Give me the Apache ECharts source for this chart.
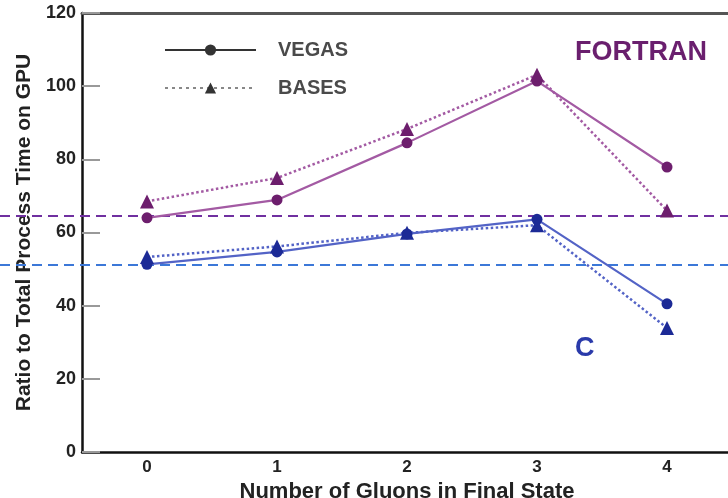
<!DOCTYPE html>
<html>
<head>
<meta charset="utf-8">
<script src="https://cdn.jsdelivr.net/npm/echarts@6/dist/echarts.min.js"></script>
<style>html,body{margin:0;padding:0;background:#fff;}#c{width:728px;height:498px;}</style>
</head>
<body>
<div id="c"></div>
<script>
const categories = ['0', '1', '2', '3', '4'];
const yTicks = [0, 20, 40, 60, 80, 100, 120];
const fortranVegas = [64.0, 68.9, 84.5, 101.4, 77.9];
const fortranBases = [68.5, 74.9, 88.3, 103.1, 66.0];
const cVegas = [51.3, 54.7, 59.6, 63.6, 40.5];
const cBases = [53.3, 56.2, 59.9, 62.0, 33.9];
const fortranRef = 64.5;
const cRef = 51.1;

const purpleLine = '#a35aa3', purpleMark = '#6d1e6d';
const blueLine = '#5363c6', blueMark = '#1c2a96';
const font = 'Liberation Sans, Arial, sans-serif';

const chart = echarts.init(document.getElementById('c'));
chart.setOption({
  animation: false,
  grid: [
    {left: 82, width: 650, top: 13, bottom: 46, outerBoundsMode: 'none', containLabel: false},
    {left: 0, right: 0, top: 13, bottom: 46, outerBoundsMode: 'none', containLabel: false}
  ],
  legend: {
    orient: 'vertical', left: 159, top: 35,
    itemWidth: 91, itemHeight: 14, itemGap: 18,
    data: ['VEGAS', 'BASES'],
    textStyle: {fontFamily: font, fontWeight: 'bold', fontSize: 20, color: '#4a4a4a', padding: [0, 0, 0, 17]}
  },
  xAxis: [
    {type: 'category', data: categories, gridIndex: 0, boundaryGap: true,
     axisLine: {lineStyle: {color: '#111', width: 2.5}},
     axisTick: {inside: true, alignWithLabel: true, length: 12, lineStyle: {color: '#444', width: 2}},
     axisLabel: {fontFamily: font, fontWeight: 'bold', fontSize: 17, color: '#222', margin: 7},
     name: 'Number of Gluons in Final State', nameLocation: 'middle', nameGap: 23,
     nameTextStyle: {fontFamily: font, fontWeight: 'bold', fontSize: 22, color: '#222'}},
    {type: 'category', data: categories, gridIndex: 0, position: 'top',
     axisLine: {lineStyle: {color: '#555', width: 3}}, axisTick: {show: false}, axisLabel: {show: false}},
    {type: 'value', gridIndex: 1, min: 0, max: 1, show: false}
  ],
  yAxis: [
    {type: 'value', gridIndex: 0, min: yTicks[0], max: yTicks[yTicks.length - 1], interval: 20,
     axisLine: {show: true, lineStyle: {color: '#111', width: 2.5}},
     axisTick: {show: true, inside: true, length: 18, lineStyle: {color: '#999', width: 2}},
     splitLine: {show: false},
     axisLabel: {fontFamily: font, fontWeight: 'bold', fontSize: 18, color: '#222', margin: 6},
     name: 'Ratio to Total Process Time on GPU', nameLocation: 'middle', nameGap: 47,
     nameTextStyle: {fontFamily: font, fontWeight: 'bold', fontSize: 21, color: '#222'}},
    {type: 'value', gridIndex: 1, min: 0, max: 120, show: false}
  ],
  graphic: [
    {type: 'text', left: 575, top: 39, style: {text: 'FORTRAN', fontFamily: font, fontWeight: 'bold', fontSize: 27, fill: '#6a1f6e'}},
    {type: 'text', left: 575, top: 335, style: {text: 'C', fontFamily: font, fontWeight: 'bold', fontSize: 27, fill: '#2a3aaa'}}
  ],
  series: [
    {name: 'fortranRef', type: 'line', xAxisIndex: 2, yAxisIndex: 1, data: [[0, fortranRef], [1, fortranRef]],
     symbol: 'none', silent: true, lineStyle: {color: '#7030a0', width: 2, type: [10, 6]}, z: 1},
    {name: 'cRef', type: 'line', xAxisIndex: 2, yAxisIndex: 1, data: [[0, cRef], [1, cRef]],
     symbol: 'none', silent: true, lineStyle: {color: '#3c78d8', width: 2, type: [10, 6]}, z: 1},
    {name: 'FORTRAN VEGAS', type: 'line', data: fortranVegas, symbol: 'circle', symbolSize: 11,
     itemStyle: {color: purpleMark}, lineStyle: {color: purpleLine, width: 2.2}, z: 3},
    {name: 'FORTRAN BASES', type: 'line', data: fortranBases, symbol: 'triangle', symbolSize: 14,
     itemStyle: {color: purpleMark}, lineStyle: {color: purpleLine, width: 2.5, type: 'dotted'}, z: 3},
    {name: 'C VEGAS', type: 'line', data: cVegas, symbol: 'circle', symbolSize: 11,
     itemStyle: {color: blueMark}, lineStyle: {color: blueLine, width: 2.2}, z: 3},
    {name: 'C BASES', type: 'line', data: cBases, symbol: 'triangle', symbolSize: 14,
     itemStyle: {color: blueMark}, lineStyle: {color: blueLine, width: 2.5, type: 'dotted'}, z: 3},
    {name: 'VEGAS', type: 'line', data: [], symbol: 'circle', symbolSize: 11,
     itemStyle: {color: '#333'}, lineStyle: {color: '#333', width: 3}},
    {name: 'BASES', type: 'line', data: [], symbol: 'triangle', symbolSize: 12,
     itemStyle: {color: '#333'}, lineStyle: {color: '#888', width: 2.5, type: [3, 4]}}
  ]
});
</script>
</body>
</html>
